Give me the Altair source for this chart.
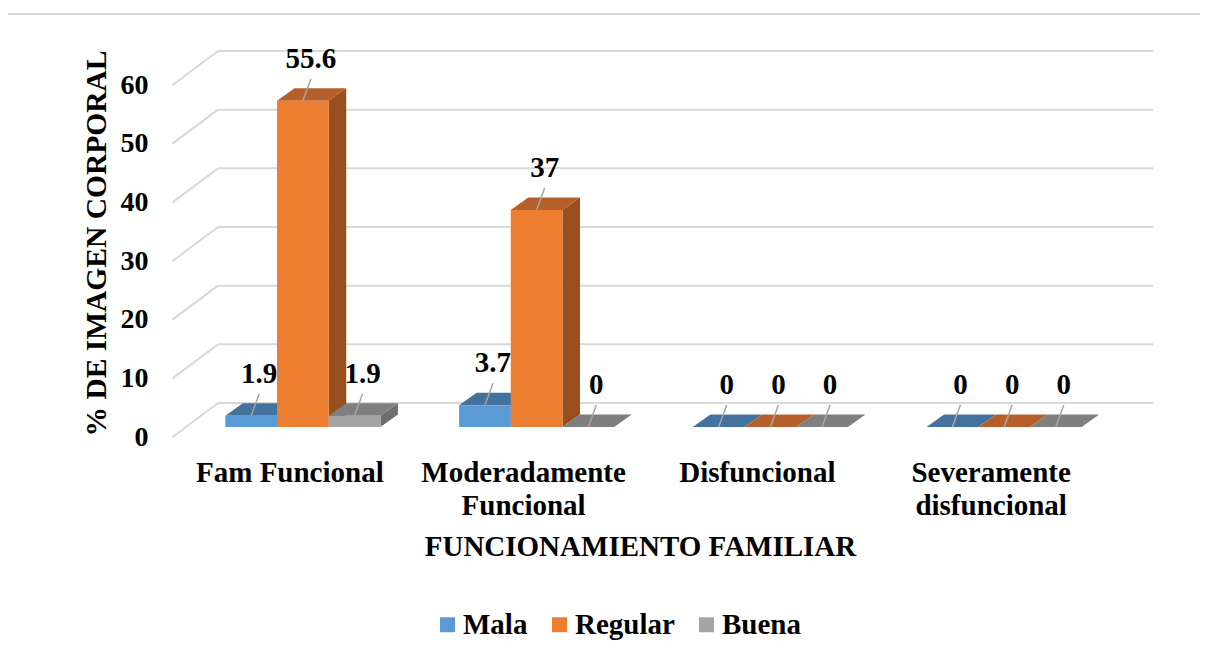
import json
import altair as alt
import pandas as pd

# ---------------- data ----------------
categories = ["Fam Funcional", "Moderadamente Funcional", "Disfuncional", "Severamente disfuncional"]
series = ["Mala", "Regular", "Buena"]
mala = [1.9, 3.7, 0, 0]
regular = [55.6, 37, 0, 0]
buena = [1.9, 0, 0, 0]
y_ticks = [0, 10, 20, 30, 40, 50, 60]

# ---------------- style ----------------
front_colors = ["#5b9bd5", "#ed7d31", "#a5a5a5"]
top_colors = ["#44729e", "#b5602a", "#7f7f7f"]
side_colors = ["#3c6690", "#994e1f", "#6e6e6e"]
GRID = "#d9d9d9"
FONT = "Liberation Serif"

W, H = 935, 352
YMAX = 60
PXX = W / len(categories)      # px per category unit
PXY = H / YMAX                 # px per value unit

BAR_W = 51.7 / PXX
DEPTH_X = 17.5 / PXX
DEPTH_Y = 12.5 / PXY
BACK_X = 32 / PXX
BACK_Y = 24 / PXY
FRONT_X = 13.5 / PXX
FRONT_Y = 10 / PXY

values = [mala, regular, buena]
bars, tops, sides = [], [], []
for j, s in enumerate(series):
    for i, c in enumerate(categories):
        v = values[j][i]
        xc = i + (j - 1) * BAR_W
        xl, xr = xc - BAR_W / 2, xc + BAR_W / 2
        bid = f"{j}-{i}"
        bars.append(dict(series=s, cat=c, xc=xc, xl=xl, xr=xr, v=v, base=0, lab=f"{v:g}"))
        tops.append(dict(bid=bid, fc=top_colors[j], ty=v, xa=xl, xb=xr))
        tops.append(dict(bid=bid, fc=top_colors[j], ty=v + DEPTH_Y, xa=xl + DEPTH_X, xb=xr + DEPTH_X))
        sides.append(dict(bid=bid, fc=side_colors[j], sx=xr, ya=0, yb=v))
        sides.append(dict(bid=bid, fc=side_colors[j], sx=xr + DEPTH_X, ya=DEPTH_Y, yb=v + DEPTH_Y))
bars = pd.DataFrame(bars)
tops = pd.DataFrame(tops)
sides = pd.DataFrame(sides)

n = len(categories)
grid = pd.DataFrame(dict(
    t=y_ticks,
    bx=[-0.5 + BACK_X] * len(y_ticks),
    bx2=[n - 0.5 + BACK_X] * len(y_ticks),
    by=[t + BACK_Y for t in y_ticks],
    fx=[-0.5 - FRONT_X] * len(y_ticks),
    fy=[t - FRONT_Y for t in y_ticks],
))

label_lines = [c.split(" ") if len(c) > 14 else [c] for c in categories]
label_expr = json.dumps(label_lines) + "[datum.value]"

XS = alt.Scale(domain=[-0.5, n - 0.5], nice=False, zero=False)
YS = alt.Scale(domain=[0, YMAX], nice=False, zero=False)

X_AX = alt.Axis(
    values=list(range(n)), labelExpr=label_expr, labelOffset=-13.5, labelPadding=31,
    ticks=False, domain=False, grid=False, labelAngle=0, labelFont=FONT, labelFontSize=29,
    labelFontWeight="bold", labelColor="black", labelLineHeight=33, labelOverlap=False,
    labelFlush=False, labelLimit=600, title="FUNCIONAMIENTO FAMILIAR", titleFont=FONT,
    titleFontSize=29, titleFontWeight="bold", titleColor="black", titleX=454, titleY=128,
    titleAlign="center", titleBaseline="alphabetic", titleLimit=1000,
)
Y_AX = alt.Axis(
    values=y_ticks, labelOffset=10, labelPadding=38, ticks=False, domain=False, grid=False,
    labelFont=FONT, labelFontSize=28, labelFontWeight="bold", labelColor="black",
    title="% DE IMAGEN CORPORAL", titleFont=FONT, titleFontSize=29.5, titleFontWeight="bold",
    titleColor="black", titleX=-81, titleY=168, titleAlign="center",
    titleBaseline="alphabetic", titleAngle=270, titleLimit=1000,
)

X = lambda f: alt.X(f, type="quantitative", scale=XS, axis=X_AX)
Y = lambda f: alt.Y(f, type="quantitative", scale=YS, axis=Y_AX)

back = alt.Chart(grid).mark_rule(color=GRID, strokeWidth=2).encode(
    x=X("bx"), x2="bx2:Q", y=Y("by"))
diag = alt.Chart(grid).mark_rule(color=GRID, strokeWidth=2).encode(
    x=X("fx"), x2="bx:Q", y=Y("fy"), y2="by:Q")

side_l = alt.Chart(sides).mark_area(orient="vertical").encode(
    x=X("sx"), y=Y("ya"), y2="yb:Q", detail="bid:N",
    color=alt.Color("fc:N", scale=None))
top_l = alt.Chart(tops).mark_area(orient="horizontal").encode(
    y=Y("ty"), x=X("xa"), x2="xb:Q", detail="bid:N",
    color=alt.Color("fc:N", scale=None))
front_l = alt.Chart(bars).mark_rect().encode(
    x=X("xl"), x2="xr:Q", y=Y("v"), y2="base:Q",
    color=alt.Color("series:N", scale=alt.Scale(domain=series, range=front_colors),
                    legend=alt.Legend(orient="none", legendX=247, legendY=535,
                                      direction="horizontal", title=None,
                                      labelFont=FONT, labelFontSize=29, labelFontWeight="bold",
                                      labelColor="black", symbolType="square", symbolSize=225,
                                      symbolStrokeWidth=0, columnPadding=17, labelOffset=1)))
leader = alt.Chart(bars).mark_rule(color="#a6a6a6", strokeWidth=1.5, x2Offset=8, y2Offset=-22).encode(
    x=X("xc"), x2="xc:Q", y=Y("v"), y2="v:Q")
labels = alt.Chart(bars).mark_text(font=FONT, fontSize=29, fontWeight="bold", dx=8, dy=-42,
                                   baseline="middle", align="center", color="black").encode(
    x=X("xc"), y=Y("v"), text="lab:N")

frame_data = alt.Data(values=[{}])
frame_top = alt.Chart(frame_data).mark_rule(color=GRID, strokeWidth=2).encode(
    x=alt.value(-179), x2=alt.value(1014), y=alt.value(-61))
frame_left = alt.Chart(frame_data).mark_rule(color=GRID, strokeWidth=2).encode(
    x=alt.value(-179), y=alt.value(-61), y2=alt.value(579))

chart = alt.layer(
    frame_top, frame_left, back, diag, side_l, top_l, front_l, leader, labels
).properties(
    width=W, height=H,
    autosize=alt.AutoSizeParams(type="none"),
    padding={"left": 178, "top": 67, "right": 79, "bottom": 216},
    background="white",
).configure_view(stroke=None)

chart.save("out.html", embed_options={"renderer": "svg", "actions": False})
